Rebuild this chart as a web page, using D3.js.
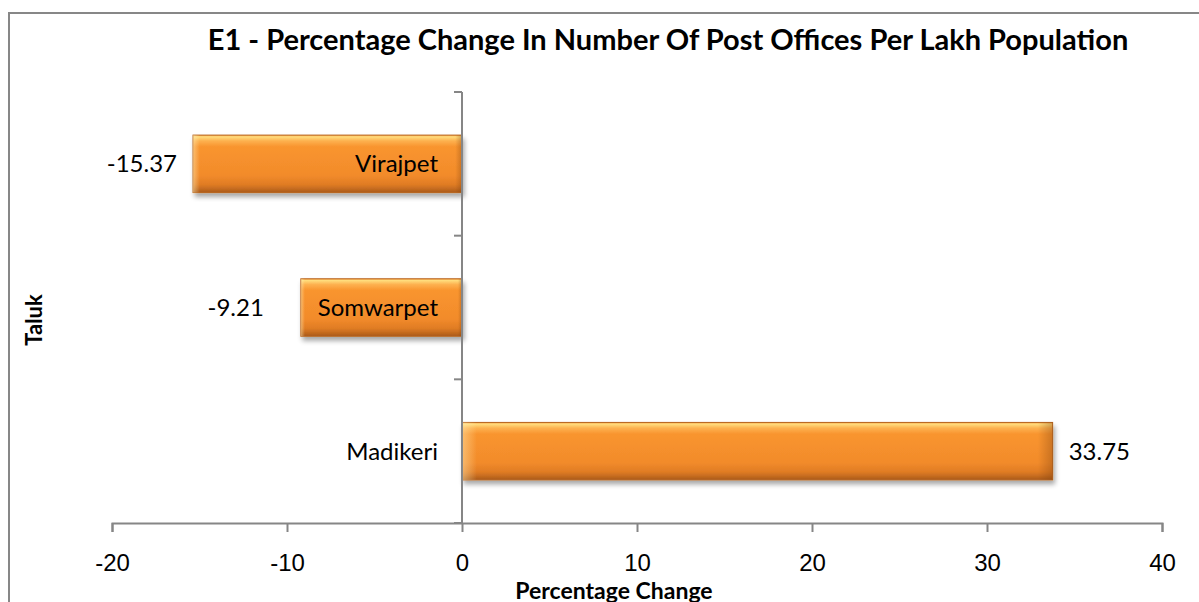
<!DOCTYPE html>
<html>
<head>
<meta charset="utf-8">
<script src="https://cdnjs.cloudflare.com/ajax/libs/d3/7.8.5/d3.min.js"></script>
<style>
  html, body { margin: 0; padding: 0; background: #fff; }
  svg { display: block; font-family: Lato, "Open Sans", sans-serif; }
</style>
</head>
<body>
<svg class="chart" width="1199" height="602"></svg>
<script>
// chart data
const taluks = ["Virajpet", "Somwarpet", "Madikeri"];
const pctChange = [-15.37, -9.21, 33.75];
const xTicks = [-20, -10, 0, 10, 20, 30, 40];
const titleText = "E1 - Percentage Change In Number Of Post Offices Per Lakh Population";
const xTitle = "Percentage Change";
const yTitle = "Taluk";

// layout
const plot = {left: 112, right: 1162, top: 92, bottom: 523};
const labelGap = [16, 37, 16]; // value label spacing from bar end
const axisCol = '#868686';

const svg = d3.select('svg.chart');

// defs: bar gradient, bevel, shadow
const defs = svg.append('defs');
const grad = defs.append('linearGradient')
  .attr('id', 'barGrad').attr('x1', 0).attr('y1', 0).attr('x2', 0).attr('y2', 1);
[
  [0, '#f9a64a'], [0.03, '#ffdc7c'], [0.1, '#fdb14f'], [0.2, '#f9952f'],
  [0.7, '#f28b2b'], [0.86, '#e07c24'], [0.94, '#c36a1f'], [1, '#a9591a']
].forEach(s => grad.append('stop').attr('offset', s[0]).attr('stop-color', s[1]));

const side = defs.append('linearGradient')
  .attr('id', 'sideGrad').attr('x1', 0).attr('y1', 0).attr('x2', 1).attr('y2', 0);
[
  [0, '#fff3c0', 0.45], [0.025, '#fff3c0', 0], [0.975, '#7a3d0c', 0], [1, '#7a3d0c', 0.35]
].forEach(s => side.append('stop').attr('offset', s[0]).attr('stop-color', s[1]).attr('stop-opacity', s[2]));

const shadow = defs.append('filter').attr('id', 'shadow')
  .attr('x', '-5%').attr('y', '-20%').attr('width', '110%').attr('height', '150%');
shadow.append('feGaussianBlur').attr('in', 'SourceAlpha').attr('stdDeviation', 2.5);
shadow.append('feOffset').attr('dx', 2).attr('dy', 4).attr('result', 'blur');
shadow.append('feComponentTransfer').append('feFuncA').attr('type', 'linear').attr('slope', 0.35);
const merge = shadow.append('feMerge');
merge.append('feMergeNode');
merge.append('feMergeNode').attr('in', 'SourceGraphic');

// chart frame
svg.append('rect')
  .attr('x', 9).attr('y', 13)
  .attr('width', 1300).attr('height', 700)
  .style('fill', 'none')
  .style('stroke', '#878787')
  .style('stroke-width', 2);

// scales
const x = d3.scaleLinear()
  .domain([d3.min(xTicks), d3.max(xTicks)])
  .range([plot.left, plot.right]);

const y = d3.scaleBand()
  .domain(taluks)
  .range([plot.top, plot.bottom])
  .paddingInner(0.6)
  .paddingOuter(0.3);

// x axis
const xAxis = svg.append('g')
  .attr('class', 'x-axis')
  .attr('transform', `translate(0,${plot.bottom})`)
  .call(d3.axisBottom(x).tickValues(xTicks).tickSize(9).tickPadding(22).tickFormat(d3.format('d')));
xAxis.select('.domain').style('stroke', axisCol).style('stroke-width', 2);
xAxis.selectAll('.tick line').style('stroke', axisCol).style('stroke-width', 2);
xAxis.selectAll('.tick text')
  .style('font-size', '24px').style('fill', '#000')
  .text(d => d < 0 ? '-' + Math.abs(d) : d);

// y axis at zero
const bandEdges = taluks.map(t => y(t) - y.step() * y.paddingInner() / 2).concat([plot.bottom]);
const yAxis = svg.append('g').attr('class', 'y-axis');
yAxis.selectAll('line.ytick')
  .data(bandEdges)
  .enter()
  .append('line')
  .attr('class', 'ytick')
  .attr('x1', x(0) - 8).attr('x2', x(0))
  .attr('y1', d => d).attr('y2', d => d)
  .style('stroke', axisCol).style('stroke-width', 2);

// bars
const barGrp = svg.append('g').attr('class', 'bars');
const bars = barGrp.selectAll('g.bar')
  .data(taluks.map((t, i) => ({taluk: t, value: pctChange[i], i: i})))
  .enter()
  .append('g')
  .attr('class', 'bar');

bars.append('rect')
  .attr('x', d => x(Math.min(0, d.value)))
  .attr('y', d => y(d.taluk))
  .attr('width', d => Math.abs(x(d.value) - x(0)))
  .attr('height', y.bandwidth())
  .style('fill', 'url(#barGrad)')
  .style('stroke', '#b8641d')
  .style('stroke-width', 1)
  .attr('filter', 'url(#shadow)');

bars.append('rect')
  .attr('x', d => x(Math.min(0, d.value)))
  .attr('y', d => y(d.taluk))
  .attr('width', d => Math.abs(x(d.value) - x(0)))
  .attr('height', y.bandwidth())
  .style('fill', 'url(#sideGrad)');

// zero line over bars
svg.append('line')
  .attr('x1', x(0)).attr('x2', x(0))
  .attr('y1', plot.top).attr('y2', plot.bottom)
  .style('stroke', axisCol).style('stroke-width', 2);

// category labels next to the axis
svg.append('g').selectAll('text.cat')
  .data(taluks)
  .enter()
  .append('text')
  .attr('class', 'cat')
  .attr('x', x(0) - 24)
  .attr('y', d => y(d) + y.bandwidth() / 2)
  .attr('dy', '0.35em')
  .attr('text-anchor', 'end')
  .style('font-size', '24px')
  .text(d => d);

// value labels
svg.append('g').selectAll('text.val')
  .data(pctChange)
  .enter()
  .append('text')
  .attr('class', 'val')
  .attr('x', (d, i) => d < 0 ? x(d) - labelGap[i] : x(d) + labelGap[i])
  .attr('y', (d, i) => y(taluks[i]) + y.bandwidth() / 2)
  .attr('dy', '0.35em')
  .attr('text-anchor', d => d < 0 ? 'end' : 'start')
  .style('font-size', '24px')
  .text(d => d.toFixed(2));

// titles
svg.append('text')
  .attr('x', 668).attr('y', 50)
  .attr('text-anchor', 'middle')
  .style('font-size', '29px').style('font-weight', 'bold')
  .text(titleText);

svg.append('text')
  .attr('x', 614).attr('y', 599)
  .attr('text-anchor', 'middle')
  .style('font-size', '23px').style('font-weight', 'bold')
  .text(xTitle);

svg.append('text')
  .attr('transform', 'translate(42,320) rotate(-90)')
  .attr('text-anchor', 'middle')
  .style('font-size', '22px').style('font-weight', 'bold')
  .text(yTitle);
</script>
</body>
</html>
